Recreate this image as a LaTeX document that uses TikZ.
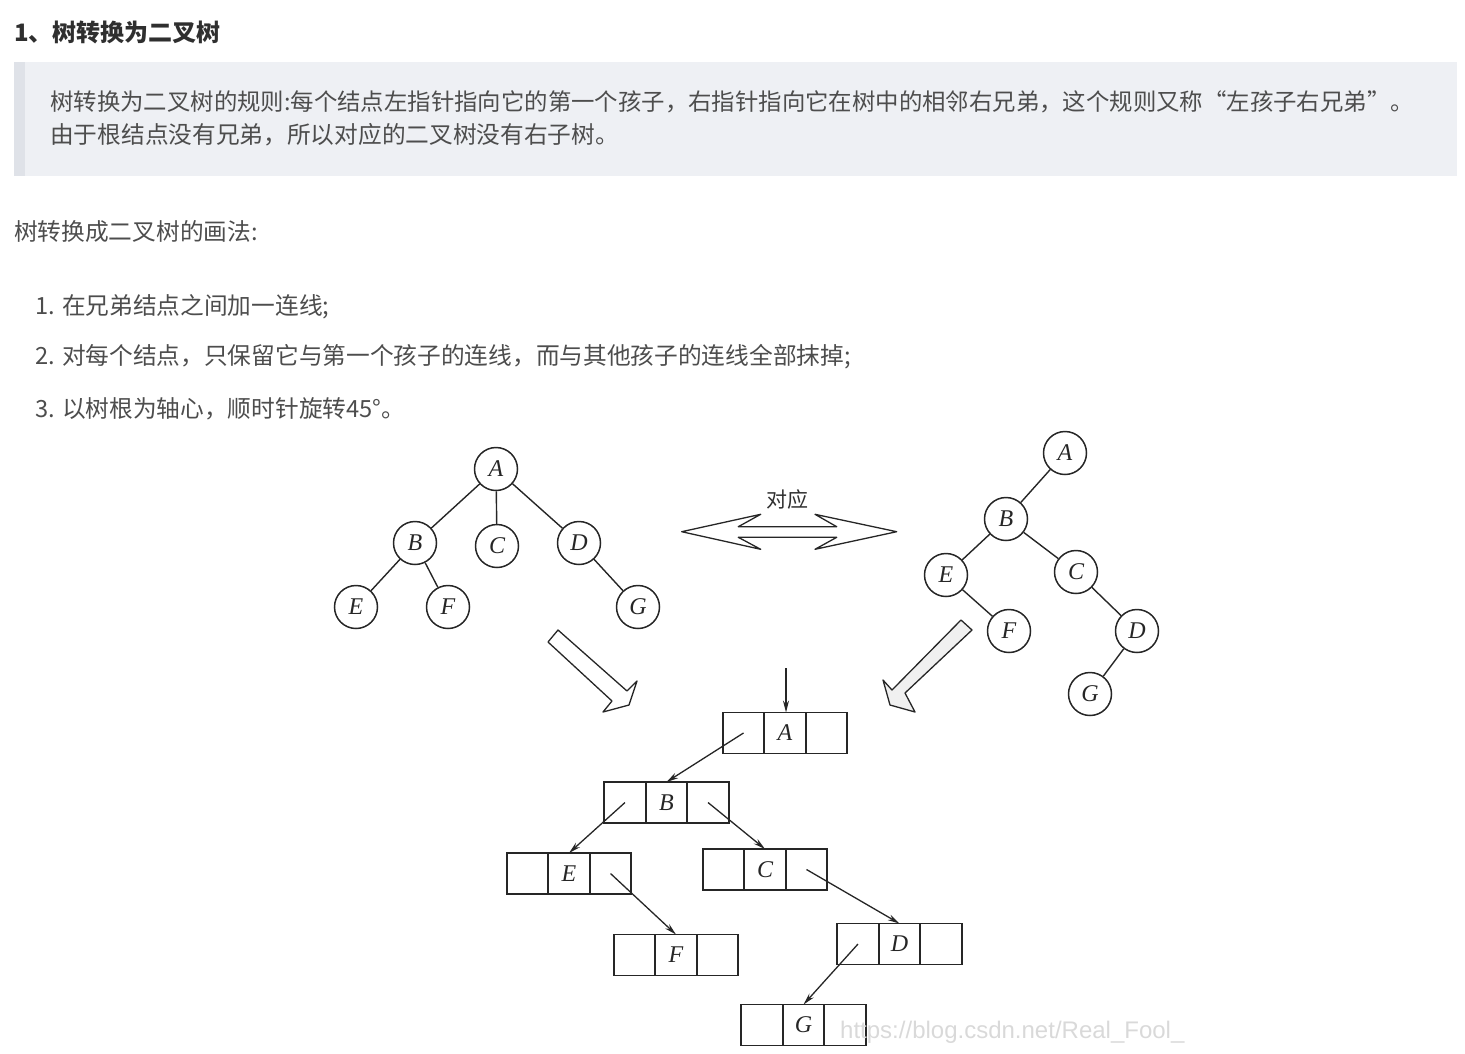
\documentclass[tikz,border=0pt]{standalone}
\usepackage{fontspec}
\usepackage{tikz}
\setmainfont{Noto Sans CJK SC}
\newfontfamily\lblfont{Liberation Serif}
\newfontfamily\wmfont{Liberation Sans}
\usetikzlibrary{arrows.meta, calc, positioning}
\definecolor{headtext}{HTML}{2F2F2F}
\definecolor{bodytext}{HTML}{4D4D4D}
\definecolor{quotebg}{HTML}{EEF0F4}
\definecolor{quotebar}{HTML}{DFE2E8}
\definecolor{inkline}{HTML}{262626}
\tikzset{
    txt/.style = {anchor=west, inner sep=0pt, text=bodytext, font=\fontsize{23.7}{28}\selectfont},
    lbl/.style = {inner sep=0pt, text=inkline, font=\lblfont\itshape\fontsize{24}{24}\selectfont},
    tnode/.style = {circle, draw=inkline, line width=1.5pt, minimum size=43pt, inner sep=0pt, lbl},
    edge/.style = {draw=inkline, line width=1.4pt},
    link/.style = {draw=inkline, line width=1.3pt, -{Stealth[length=12pt,width=6pt]}},
    hollow/.style = {draw=inkline, line width=1.3pt, line join=round},
    pics/lnode/.style = {
        code = {%
        \coordinate (-center) at (0,0);
        \coordinate (-top) at (0,-20.5);
        \coordinate (-left) at (-41.5,0);
        \coordinate (-right) at (41.5,0);
        \draw[inkline, line width=1.7pt] (-62.25,-20.5) rectangle (62.25,20.5);
        \draw[inkline, line width=1.7pt] (-20.75,-20.5) -- (-20.75,20.5) (20.75,-20.5) -- (20.75,20.5);
        \node[lbl] (-lbl) at (0,0) {#1};
        }
    },
}
\begin{document}
\begin{tikzpicture}[x=1pt, y=-1pt]
\useasboundingbox (0,0) rectangle (1465,1053);

% text part
\node[txt, text=headtext, font=\bfseries\fontsize{24}{28}\selectfont] (title) at (14,32) {1、树转换为二叉树};
\fill[quotebg] (14,62) rectangle (1457,176);
\fill[quotebar] (14,62) rectangle (25,176);
\node[txt, font=\fontsize{23.4}{28}\selectfont] (rule1) at (50,102) {树转换为二叉树的规则:每个结点左指针指向它的第一个孩子，右指针指向它在树中的相邻右兄弟，这个规则又称“左孩子右兄弟”。};
\node[txt] (rule2) at (50,135) {由于根结点没有兄弟，所以对应的二叉树没有右子树。};
\node[txt] (how) at (14,232) {树转换成二叉树的画法:};
\node[txt] (step1) at (35,307) {1. 在兄弟结点之间加一连线;};
\node[txt] (step2) at (35,357) {2. 对每个结点，只保留它与第一个孩子的连线，而与其他孩子的连线全部抹掉;};
\node[txt] (step3) at (35,409) {3. 以树根为轴心，顺时针旋转45°。};

% the tree
\node[tnode] (lA) at (496,469) {A};
\node[tnode] (lB) at (415,543) {B};
\node[tnode] (lC) at (497,546) {C};
\node[tnode] (lD) at (579,543) {D};
\node[tnode] (lE) at (356,607) {E};
\node[tnode] (lF) at (448,607) {F};
\node[tnode] (lG) at (638,607) {G};
\draw[edge] (lA) -- (lB);
\draw[edge] (lA) -- (lC);
\draw[edge] (lA) -- (lD);
\draw[edge] (lB) -- (lE);
\draw[edge] (lB) -- (lF);
\draw[edge] (lD) -- (lG);

% the binary tree
\node[tnode] (rA) at (1065,453) {A};
\node[tnode] (rB) at (1006,519) {B};
\node[tnode] (rE) at (946,575) {E};
\node[tnode] (rC) at (1076,572) {C};
\node[tnode] (rF) at (1009,631) {F};
\node[tnode] (rD) at (1137,631) {D};
\node[tnode] (rG) at (1090,694) {G};
\draw[edge] (rA) -- (rB);
\draw[edge] (rB) -- (rE);
\draw[edge] (rB) -- (rC);
\draw[edge] (rE) -- (rF);
\draw[edge] (rC) -- (rD);
\draw[edge] (rD) -- (rG);

% double arrow
\node[inner sep=0pt, text=headtext, font=\fontsize{21}{21}\selectfont] (dui) at (787,500) {对应};
\draw[hollow] (681.7,531.7) -- (760.7,514.3) -- (738.3,526.7) -- (836.7,526.7) -- (815,514.3)
    -- (896.7,531.7) -- (815,549.3) -- (836.7,537.3) -- (738.3,537.3) -- (760.7,549.3) -- cycle;

% block arrows
\draw[hollow] (548,642) -- (558,630) -- (627,691) -- (637,681) -- (629,705) -- (603,712) -- (612,701) -- cycle;
\draw[hollow, fill=black!6] (961,620) -- (972,630) -- (905,693) -- (915,712) -- (890,705) -- (883,680) -- (892,690) -- cycle;

% linked nodes
\pic (pA) at (785,733) {lnode=A};
\pic (pB) at (666.5,802.5) {lnode=B};
\pic (pE) at (569,873.5) {lnode=E};
\pic (pC) at (765,869.5) {lnode=C};
\pic (pF) at (676,955) {lnode=F};
\pic (pD) at (899.5,944) {lnode=D};
\pic (pG) at (803.5,1025) {lnode=G};

\coordinate (entry) at (786,668);
\draw[link] (entry) -- (pA-top -| entry);
\draw[link] (pA-left) -- (pB-top);
\draw[link] (pB-left) -- (pE-top);
\draw[link] (pB-right) -- (pC-top);
\draw[link] (pE-right) -- (pF-top);
\draw[link] (pC-right) -- (pD-top);
\draw[link] (pD-left) -- (pG-top);

% watermark
\node[anchor=west, inner sep=0pt, text=black!15, font=\wmfont\fontsize{24}{24}\selectfont] (wm) at (840,1032) {https://blog.csdn.net/Real\_Fool\_};
\end{tikzpicture}
\end{document}
